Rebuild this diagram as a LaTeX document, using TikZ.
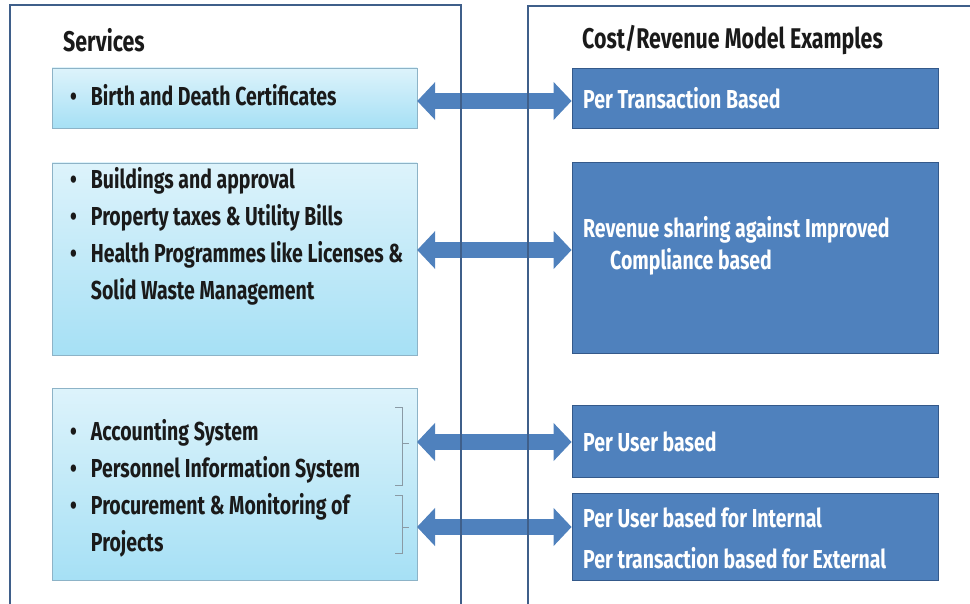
\documentclass[tikz,border=0pt]{standalone}
\usepackage{fontspec}
\setmainfont{Fira Sans}[FakeStretch=0.75]
\usepackage{tikz}
\usetikzlibrary{arrows.meta,positioning,fit}
\usepackage{xcolor}
\definecolor{Frame}{HTML}{3F5F8A}
\definecolor{SkyTop}{HTML}{DDF3FB}
\definecolor{SkyBot}{HTML}{A6E0F5}
\definecolor{SkyLine}{HTML}{8DB3C7}
\definecolor{Steel}{HTML}{4F81BD}
\definecolor{SteelLine}{HTML}{34598A}
\definecolor{Ink}{HTML}{1A1A1A}
\definecolor{Bracket}{HTML}{8A9AA5}

\begin{document}
\begin{tikzpicture}[x=1pt,y=-1pt,>=Latex,
    svcbox/.style={draw=SkyLine,top color=SkyTop,bottom color=SkyBot,inner sep=0pt},
    modelbox/.style={draw=SteelLine,thick,fill=Steel,inner sep=0pt},
    panel/.style={draw=Frame,line width=1.6pt},
    head/.style={font=\bfseries\fontsize{28.5}{30}\selectfont,text=Ink,anchor=west,inner sep=0pt},
    svctext/.style={font=\bfseries\fontsize{26}{37}\selectfont,text=Ink,anchor=west,inner sep=0pt,align=left},
    modeltext/.style={font=\bfseries\fontsize{26}{37}\selectfont,text=white,anchor=west,inner sep=0pt,align=left},
    dbl/.style={Steel,line width=16pt,{Triangle[width=37pt,length=18pt]}-{Triangle[width=37pt,length=18pt]}},
    brk/.style={draw=Bracket,line width=1pt}]
    \useasboundingbox (0,0) rectangle (970,604);
    % headers
    \node[head] (svchead) at (63,40) {Services};
    \node[head] (modelhead) at (582,40) {Cost/Revenue Model Examples};
    % service boxes
    \node[svcbox,fit={(52,68) (417,128)}] (birth) {};
    \node[svcbox,fit={(52,163) (417,355)}] (civic) {};
    \node[svcbox,fit={(52,388) (417,580)}] (office) {};
    \node[svctext] (birthtxt) at (70,98) {\begin{tabular}{@{}l@{\hspace{14pt}}l@{}}\textbullet & Birth and Death Certificates\end{tabular}};
    \node[svctext] (civictxt) at (70,237) {\begin{tabular}{@{}l@{\hspace{14pt}}l@{}}
      \textbullet & Buildings and approval\\
      \textbullet & Property taxes \& Utility Bills\\
      \textbullet & Health Programmes like Licenses \&\\
      & Solid Waste Management\end{tabular}};
    \node[svctext] (officetxt) at (70,489) {\begin{tabular}{@{}l@{\hspace{14pt}}l@{}}
      \textbullet & Accounting System\\
      \textbullet & Personnel Information System\\
      \textbullet & Procurement \& Monitoring of\\
      & Projects\end{tabular}};
    % model boxes
    \node[modelbox,fit={(572,68) (938,128)}] (pertrans) {};
    \node[modelbox,fit={(572,162) (938,353)}] (sharing) {};
    \node[modelbox,fit={(572,405) (938,477)}] (peruser) {};
    \node[modelbox,fit={(572,493) (938,580)}] (mixed) {};
    \node[modeltext] (pertranstxt) at (583,98) {Per Transaction Based};
    \node[modeltext,font=\bfseries\fontsize{26}{32}\selectfont] (sharingtxt) at (583,246) {Revenue sharing against Improved\\\hspace*{27pt}Compliance based};
    \node[modeltext] (perusertxt) at (583,442) {Per User based};
    \node[modeltext,font=\bfseries\fontsize{26}{41}\selectfont] (mixedtxt) at (583,538) {Per User based for Internal\\Per transaction based for External};
    % brackets
    \draw[brk] (395,407) -- (402,407) -- (402,485) -- (395,485);
    \draw[brk] (402,443) -- (409,443);
    \draw[brk] (395,495) -- (402,495) -- (402,553) -- (395,553);
    \draw[brk] (402,527) -- (409,527);
    \coordinate (tickA) at (417,442);
    \coordinate (tickB) at (417,527);
    % arrows
    \draw[dbl] ([yshift=-3pt]birth.east) -- ([yshift=-3pt]pertrans.west);
    \draw[dbl] ([yshift=9pt]civic.east) -- ([yshift=9pt]civic.east -| sharing.west);
    \draw[dbl] (tickA) -- (tickA -| peruser.west);
    \draw[dbl] (tickB) -- (tickB -| mixed.west);
    % panels
    \draw[panel] (10,612) -- (10,5) -- (461,5) -- (461,612);
    \draw[panel] (528,612) -- (528,6) -- (980,6);
\end{tikzpicture}
\end{document}
